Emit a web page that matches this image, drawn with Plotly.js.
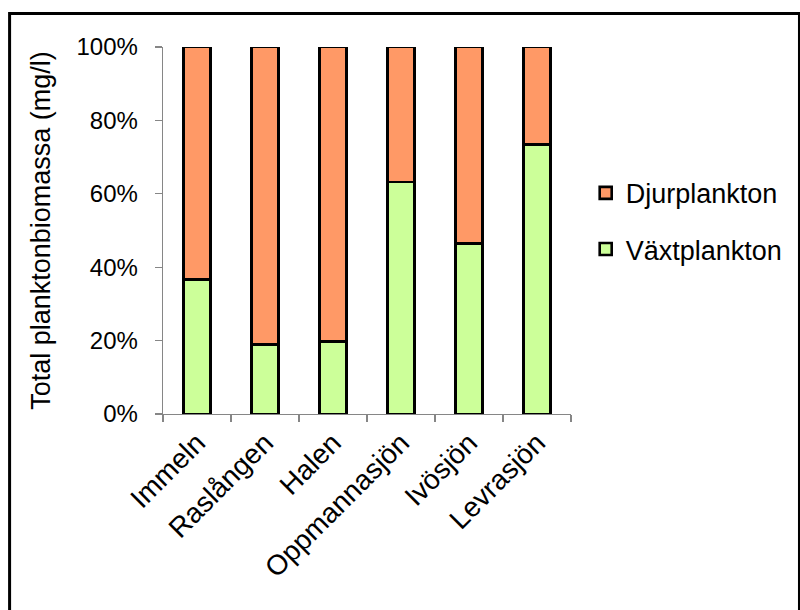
<!DOCTYPE html>
<html>
<head>
<meta charset="utf-8">
<script src="https://cdn.plot.ly/plotly-3.0.1.min.js"></script>
<style>
  html, body { margin: 0; padding: 0; background: #ffffff; }
  #chart { width: 800px; height: 610px; }
</style>
</head>
<body>
<div id="chart"></div>
<script>
// Lakes along the x axis
const lakes = ['Immeln', 'Raslången', 'Halen', 'Oppmannasjön', 'Ivösjön', 'Levrasjön'];

// Share of total plankton biomass per lake (%)
const vaxtplankton = [36.6, 19.0, 19.7, 63.2, 46.5, 73.4];
const djurplankton = [63.4, 81.0, 80.3, 36.8, 53.5, 26.6];

// Y axis ticks
const yTickValues = [0, 20, 40, 60, 80, 100];
const yTickLabels = ['0%', '20%', '40%', '60%', '80%', '100%'];

const FONT = 'Liberation Sans, Arial, sans-serif';
const AXIS_GREY = '#868686';

const traces = [
  {
    type: 'bar',
    name: 'Växtplankton',
    x: lakes,
    y: vaxtplankton,
    legendgroup: 'vaxt',
    legendrank: 2,
    marker: { color: '#CCFF99', line: { color: '#000000', width: 2.6 } },
    hoverinfo: 'x+y+name'
  },
  {
    type: 'bar',
    name: 'Djurplankton',
    x: lakes,
    y: djurplankton,
    legendgroup: 'djur',
    legendrank: 1,
    marker: { color: '#FF9966', line: { color: '#000000', width: 2.6 } },
    hoverinfo: 'x+y+name'
  }
];

const layout = {
  width: 800,
  height: 610,
  paper_bgcolor: '#ffffff',
  plot_bgcolor: '#ffffff',
  margin: { l: 163, r: 222, t: 47, b: 196, pad: 0 },
  barmode: 'stack',
  bargap: 0.595,
  font: { family: FONT, color: '#000000', size: 22 },
  showlegend: true,
  legend: {
    x: 1.036,
    xanchor: 'left',
    y: 0.525,
    yanchor: 'middle',
    traceorder: 'grouped',
    tracegroupgap: 18,
    font: { family: FONT, size: 27, color: '#000000' },
    bgcolor: 'rgba(0,0,0,0)',
    itemwidth: 30
  },
  xaxis: {
    type: 'category',
    showline: true,
    linecolor: AXIS_GREY,
    linewidth: 1.3,
    ticks: 'outside',
    tickson: 'boundaries',
    ticklen: 7,
    tickcolor: AXIS_GREY,
    tickwidth: 1.3,
    tickangle: -45,
    tickfont: { family: FONT, size: 28, color: '#000000' },
    showgrid: false,
    zeroline: false,
    fixedrange: true
  },
  yaxis: {
    range: [0, 100],
    tickvals: yTickValues,
    ticktext: yTickLabels,
    showline: true,
    linecolor: AXIS_GREY,
    linewidth: 1.3,
    ticks: 'outside',
    ticklen: 7,
    tickcolor: AXIS_GREY,
    tickwidth: 1.3,
    ticklabelstandoff: 12,
    tickfont: { family: FONT, size: 24, color: '#000000' },
    showgrid: false,
    zeroline: false,
    fixedrange: true,
    title: {
      text: 'Total planktonbiomassa (mg/l)',
      font: { family: FONT, size: 27, color: '#000000' },
      standoff: 18
    }
  },
  shapes: [
    {
      // outer chart frame
      type: 'rect',
      xref: 'paper', yref: 'paper',
      x0: -0.376, x1: 1.56,
      y0: -0.56, y1: 1.091,
      line: { color: '#000000', width: 3 },
      fillcolor: 'rgba(0,0,0,0)',
      layer: 'below'
    }
  ]
};

Plotly.newPlot('chart', traces, layout, { displayModeBar: false, staticPlot: true });
</script>
</body>
</html>
